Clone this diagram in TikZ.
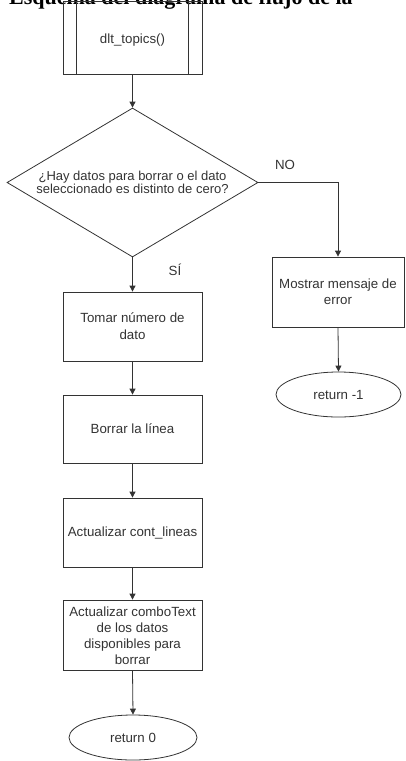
\documentclass[tikz,border=0pt]{standalone}
\usepackage{fontspec}
\setmainfont{Liberation Sans}
\newfontfamily\titlefont{Liberation Serif}
\usetikzlibrary{arrows.meta,shapes.geometric}

\tikzset{
  ink/.style={black!80},
  lbl/.style={text=black!80, font=\fontsize{13.3}{16}\selectfont, align=center, inner sep=0pt},
  proc/.style={draw=black!80, line width=0.8pt, rectangle, minimum width=139pt, inner sep=0pt},
  term/.style={draw=black!80, line width=0.8pt, ellipse, inner sep=0pt},
  flow/.style={draw=black!80, line width=0.8pt, -{Triangle[length=6pt,width=6pt]}},
}

\begin{document}
\begin{tikzpicture}[x=1pt, y=-1pt]
\useasboundingbox (0,0) rectangle (405,761);
\clip (0,0) rectangle (405,761);

% heading line, running off the top edge
\node[anchor=base west, inner sep=0pt, font=\titlefont\bfseries\fontsize{22}{22}\selectfont] (title) at (9,4.5) {Esquema del diagrama de flujo de la};

% subroutine block
\node[proc, minimum height=73pt] (sub) at (132.5,37.5) {};
\draw[ink, line width=0.8pt] ([xshift=14pt]sub.north west) -- ([xshift=14pt]sub.south west);
\draw[ink, line width=0.8pt] ([xshift=-14pt]sub.north east) -- ([xshift=-14pt]sub.south east);
\node[lbl] (subtxt) at (132.5,40) {dlt\_topics()};

% decision
\node[diamond, draw=black!80, line width=0.8pt, minimum width=251pt, minimum height=149pt, inner sep=0pt] (dec) at (132.5,182.5) {};
\node[lbl, font=\fontsize{13}{13.5}\selectfont] (dectxt) at (dec) {¿Hay datos para borrar o el dato\\seleccionado es distinto de cero?};

% error branch
\node[proc, minimum width=132pt, minimum height=70pt] (err) at (338,292) {};
\node[lbl] (errtxt) at (err) {Mostrar mensaje de\\error};
\node[term, minimum width=125pt, minimum height=45pt] (retm) at (338.5,394.5) {};
\node[lbl] (retmtxt) at (retm) {return -1};

% main branch
\node[proc, minimum height=69pt] (take) at (132.5,326.5) {};
\node[lbl, font=\fontsize{13.3}{17}\selectfont] (taketxt) at (take) {Tomar número de\\dato};
\node[proc, minimum height=68pt] (del) at (132.5,429) {};
\node[lbl] (deltxt) at (del) {Borrar la línea};
\node[proc, minimum height=69pt] (cnt) at (132.5,532.5) {};
\node[lbl] (cnttxt) at (cnt) {Actualizar cont\_lineas};
\node[proc, minimum height=70pt] (combo) at (132.5,635) {};
\node[lbl] (combotxt) at (132.5,636) {Actualizar comboText\\de los datos\\disponibles para\\borrar};
\node[term, minimum width=128pt, minimum height=45pt] (ret0) at (133,737.5) {};
\node[lbl] (ret0txt) at (ret0) {return 0};

% connectors
\draw[flow] (sub.south) -- (dec.north);
\draw[flow] (dec.south) -- (take.north);
\draw[flow] (take.south) -- (del.north);
\draw[flow] (del.south) -- (cnt.north);
\draw[flow] (cnt.south) -- (combo.north);
\draw[flow] (combo.south) -- (ret0.north);
\draw[flow] (dec.east) -| (err.north);
\draw[flow] (err.south) -- (retm.north);

% branch labels
\node[lbl] (no) at (285,165) {NO};
\node[lbl] (si) at (175,270) {SÍ};
\end{tikzpicture}
\end{document}
